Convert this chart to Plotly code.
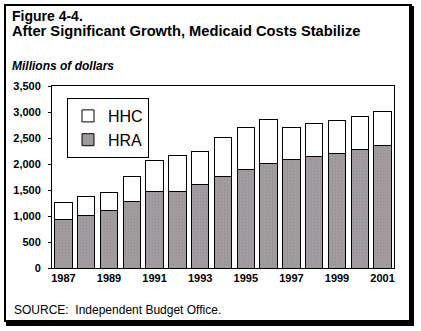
import plotly.graph_objects as go

years = list(range(1987, 2002))
hra = [940, 1015, 1110, 1285, 1475, 1475, 1610, 1765, 1900, 2015, 2090, 2150, 2205, 2280, 2360]
hhc = [325, 365, 345, 480, 585, 690, 640, 750, 805, 845, 615, 635, 635, 635, 655]
ytick_vals = [0, 500, 1000, 1500, 2000, 2500, 3000, 3500]
xtick_vals = [1987, 1989, 1991, 1993, 1995, 1997, 1999, 2001]

W, H = 421, 331
L, R, T, B = 52, 394, 86, 268  # plot area in pixels

def px(x):
    return (x - L) / (R - L)

def py(y):
    return (B - y) / (B - T)

FONT = "Liberation Sans, Arial, sans-serif"

fig = go.Figure()
fig.add_trace(go.Bar(
    x=years, y=hra, name="HRA",
    marker=dict(color="#a29da1", line=dict(color="black", width=1),
                pattern=dict(shape=".", fgcolor="#8d878b", bgcolor="#a29da1", size=3, solidity=0.3)),
))
fig.add_trace(go.Bar(
    x=years, y=hhc, name="HHC",
    marker=dict(color="white", line=dict(color="black", width=1)),
))

shapes = [
    dict(type="rect", xref="paper", yref="paper", x0=px(409), x1=px(414), y0=py(6), y1=py(326),
         fillcolor="black", line=dict(width=0), layer="below"),
    dict(type="rect", xref="paper", yref="paper", x0=px(6), x1=px(414), y0=py(320), y1=py(326),
         fillcolor="black", line=dict(width=0), layer="below"),
    dict(type="rect", xref="paper", yref="paper", x0=px(5), x1=px(411), y0=py(5), y1=py(321),
         fillcolor="rgba(0,0,0,0)", line=dict(color="black", width=2), layer="below"),
]

annotations = [
    dict(text="<b>Figure 4-4.</b>", x=px(10), y=py(15.5), xref="paper", yref="paper",
         xanchor="left", yanchor="middle", showarrow=False, font=dict(family=FONT, size=14, color="black")),
    dict(text="<b>After Significant Growth, Medicaid Costs Stabilize</b>", x=px(10), y=py(31.5), xref="paper", yref="paper",
         xanchor="left", yanchor="middle", showarrow=False, font=dict(family=FONT, size=14.7, color="black")),
    dict(text="<b><i>Millions of dollars</i></b>", x=px(10), y=py(66), xref="paper", yref="paper",
         xanchor="left", yanchor="middle", showarrow=False, font=dict(family=FONT, size=12, color="black")),
    dict(text="SOURCE:  Independent Budget Office.", x=px(12), y=py(310), xref="paper", yref="paper",
         xanchor="left", yanchor="middle", showarrow=False, font=dict(family=FONT, size=12, color="black")),
]

fig.update_layout(
    width=W, height=H,
    margin=dict(l=L, r=W - R, t=T, b=H - B),
    paper_bgcolor="white", plot_bgcolor="white",
    barmode="stack", bargap=0.23,
    showlegend=True,
    legend=dict(x=px(67), y=py(98), xanchor="left", yanchor="top",
                bordercolor="black", borderwidth=1, bgcolor="white",
                traceorder="reversed", font=dict(family=FONT, size=16, color="black"),
                itemclick=False, tracegroupgap=0),
    font=dict(family=FONT, color="black"),
    shapes=shapes, annotations=annotations,
    xaxis=dict(range=[1986.5, 2001.5], tickvals=xtick_vals, ticktext=[str(v) for v in xtick_vals],
               showline=True, linecolor="black", linewidth=1, mirror=True, ticks="", showgrid=False,
               tickfont=dict(family=FONT, size=11, weight="bold", color="black"), zeroline=False),
    yaxis=dict(range=[0, 3500], tickvals=ytick_vals, ticktext=[f"{v:,}" for v in ytick_vals],
               showline=True, linecolor="black", linewidth=1, mirror=True, ticks="outside", ticklen=3,
               tickcolor="black", showgrid=False, zeroline=False, ticklabelstandoff=5,
               tickfont=dict(family=FONT, size=11, weight="bold", color="black")),
)

fig.write_html("out.html")
